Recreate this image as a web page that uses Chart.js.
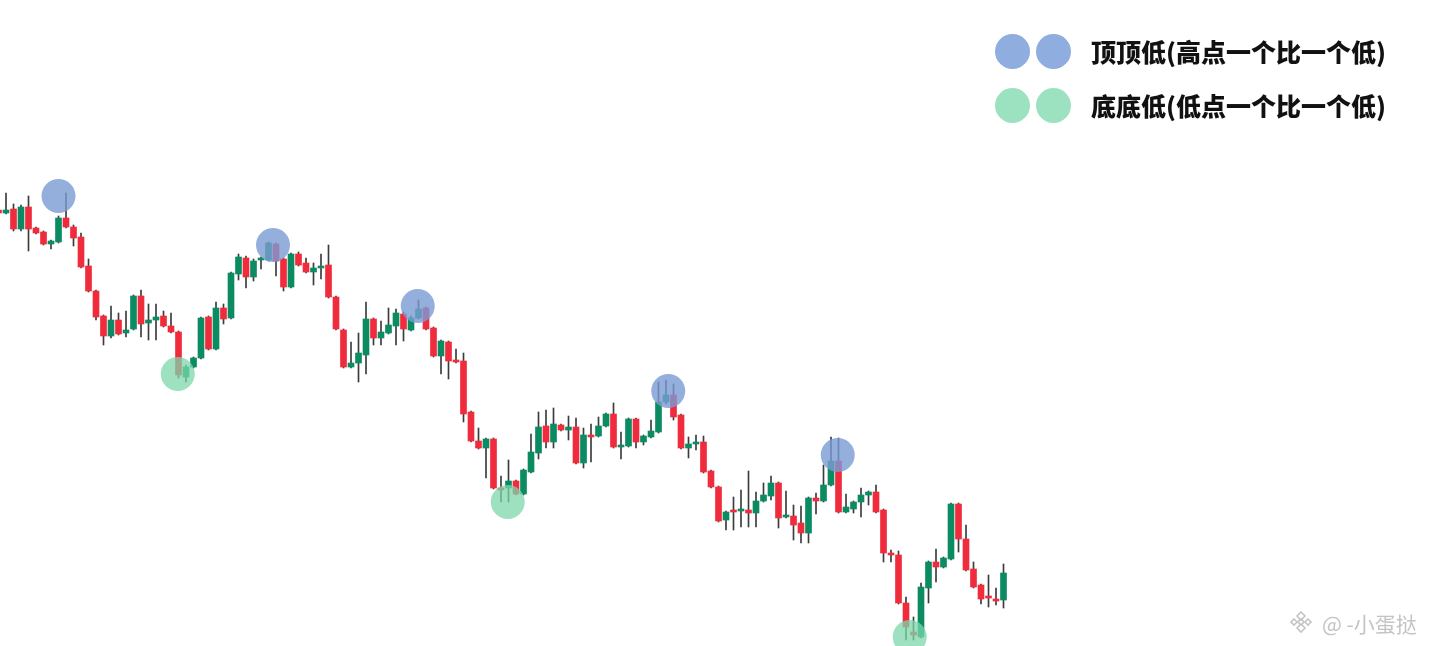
<!DOCTYPE html>
<html lang="zh">
<head>
<meta charset="utf-8">
<title>顶顶低 底底低</title>
<script src="https://cdn.jsdelivr.net/npm/chart.js@4.4.1/dist/chart.umd.min.js"></script>
<style>
  html, body { margin: 0; padding: 0; background: #fff; }
  #wrap { position: relative; width: 1434px; height: 646px; overflow: hidden; }
  #grafico { position: absolute; left: 0; top: 0; }
  .legenda { position: absolute; left: 995px; display: flex; align-items: center; }
  .bola { width: 35px; height: 35px; border-radius: 50%; margin-right: 6px; }
  .texto { margin-left: 14px; font-family: "Noto Sans CJK SC", sans-serif; font-weight: 900; font-size: 25px; color: #111; white-space: nowrap; }
  #marca { position: absolute; left: 1288px; top: 608px; display: flex; align-items: center; color: #c4c4c4; font-family: "Noto Sans CJK SC", sans-serif; font-size: 21px; }
</style>
</head>
<body>
<div id="wrap">
  <canvas id="grafico" width="1434" height="646"></canvas>
  <div class="legenda" style="top:33px">
    <div class="bola" style="background:#8fadde"></div>
    <div class="bola" style="background:#8fadde"></div>
    <span class="texto">顶顶低(高点一个比一个低)</span>
  </div>
  <div class="legenda" style="top:87px">
    <div class="bola" style="background:#9de2c0"></div>
    <div class="bola" style="background:#9de2c0"></div>
    <span class="texto">底底低(低点一个比一个低)</span>
  </div>
  <div id="marca">
    <svg width="26" height="26" viewBox="0 0 26 26" style="margin-right:8px">
      <g fill="none" stroke="#c4c4c4" stroke-width="1.6">
        <path d="M13 2 L17 6 L13 10 L9 6 Z"/>
        <path d="M6 9 L9 12 L6 15 L3 12 Z"/>
        <path d="M20 9 L23 12 L20 15 L17 12 Z"/>
        <path d="M13 9 L16 12 L13 15 L10 12 Z"/>
        <path d="M13 14 L17 18 L13 22 L9 18 Z"/>
      </g>
    </svg>
    <span>@ -小蛋挞</span>
  </div>
</div>
<script>
// candles (price units, one per bar)
const abertura = [490,487,491,471,493,472,468,456,458,482, 473,463,434,409,384,364,380,367,371,404,
  377,380,384,374,368,323,333,342,383,351, 392,382,426,442,423,440,440,456,441,413,
  446,437,428,432,435,403,370,333,337,345, 381,362,367,374,386,370,382,392,372,344,
  358,340,339,288,259,252,261,211,212,219, 206,228,247,274,258,275,270,273,237,265,
  264,274,286,253,254,281,258,263,268,298, 305,285,252,256,258,229,213,180,189,189,
  190,187,199,204,217,183,184,177,167,202, 199,215,239,188,191,198,205,208,190,147,
  145,97,68,63,112,138,133,141,196,161, 131,115,104,100,100];
const fechamento = [487,490,471,493,471,467,456,459,482,473, 462,433,409,383,364,380,366,370,404,376,
  380,383,374,368,325,333,342,382,351,392, 381,427,443,423,439,442,457,439,413,446,
  435,428,432,434,403,371,333,337,347,381, 362,368,375,387,371,382,391,371,344,359,
  339,338,286,259,252,261,212,210,219,206, 230,248,273,258,276,270,273,237,265,263,
  274,286,253,255,281,258,264,269,298,305, 283,252,256,258,228,213,179,188,188,191,
  187,199,205,217,182,185,175,167,202,199, 215,239,188,193,198,205,208,188,147,145,
  97,73,65,113,138,133,142,196,161,130, 113,101,102,99,127];
const maxima = [492,507,496,495,504,473,469,460,484,507, 475,467,441,410,385,394,387,389,405,410,
  396,396,389,387,369,335,343,383,384,398, 396,428,446,444,441,443,458,457,442,447,
  448,442,437,446,455,404,371,358,367,398, 382,379,392,391,388,384,400,393,373,360,
  359,351,347,289,272,262,262,224,240,220, 231,266,288,290,292,276,284,282,272,276,
  283,287,297,268,282,282,265,280,318,320, 316,286,263,265,264,230,214,189,203,210,
  229,208,217,224,218,209,195,194,203,207, 235,263,262,206,199,212,209,215,191,150,
  149,103,83,117,139,151,143,197,197,175, 138,116,125,112,136];
const minimas = [485,486,469,469,449,466,455,451,457,472, 454,432,408,380,355,362,365,363,370,363,
  360,360,373,367,322,318,332,341,350,350, 376,381,420,412,419,431,439,424,409,412,
  434,427,415,421,402,370,332,332,318,326, 355,355,366,355,359,369,381,370,343,326,
  321,337,278,258,251,222,211,198,198,205, 205,227,241,252,252,269,260,236,232,238,
  263,273,252,241,253,252,255,262,267,296, 280,251,242,250,227,212,178,170,170,173,
  173,173,198,200,172,182,160,157,157,186, 198,214,187,187,187,183,195,187,138,138,
  96,60,60,62,97,118,132,140,148,129, 112,96,93,95,92];

// marked swing points (bar position, price)
const topoX = [8, 36.6, 55.9, 89.3, 111.9];
const topoY = [504, 455, 394, 309, 245];
const fundoX = [23.9, 67.9, 121.5];
const fundoY = [326, 198, 63];

const VERDE = '#0b8b62';
const VERMELHO = '#ef2b3c';

const cores = abertura.map((o, i) => fechamento[i] >= o ? VERDE : VERMELHO);

const grafico = document.getElementById('grafico');

new Chart(grafico, {
  type: 'bar',
  data: {
    datasets: [
      {
        type: 'bubble',
        data: topoX.map((x, i) => ({ x: x, y: topoY[i], r: 17 })),
        backgroundColor: 'rgba(122, 155, 212, 0.8)',
        borderWidth: 0,
        clip: false,
        order: 0
      },
      {
        type: 'bubble',
        data: fundoX.map((x, i) => ({ x: x, y: fundoY[i], r: 17 })),
        backgroundColor: 'rgba(125, 215, 172, 0.75)',
        borderWidth: 0,
        clip: false,
        order: 0
      },
      {
        data: abertura.map((o, i) => ({ x: i, y: [o, fechamento[i]] })),
        backgroundColor: cores,
        borderWidth: 0,
        barThickness: 6,
        minBarLength: 2,
        grouped: false,
        order: 1
      },
      {
        data: minimas.map((l, i) => ({ x: i, y: [l, maxima[i]] })),
        backgroundColor: '#3c3c3c',
        borderWidth: 0,
        barThickness: 1,
        grouped: false,
        order: 2
      }
    ]
  },
  options: {
    responsive: false,
    animation: false,
    layout: { padding: 0, autoPadding: false },
    scales: {
      x: { type: 'linear', display: false, min: 0.2, max: 191.4, offset: false },
      y: { display: false, min: 54, max: 700 }
    },
    plugins: {
      legend: { display: false },
      tooltip: { enabled: false }
    }
  }
});
</script>
</body>
</html>
